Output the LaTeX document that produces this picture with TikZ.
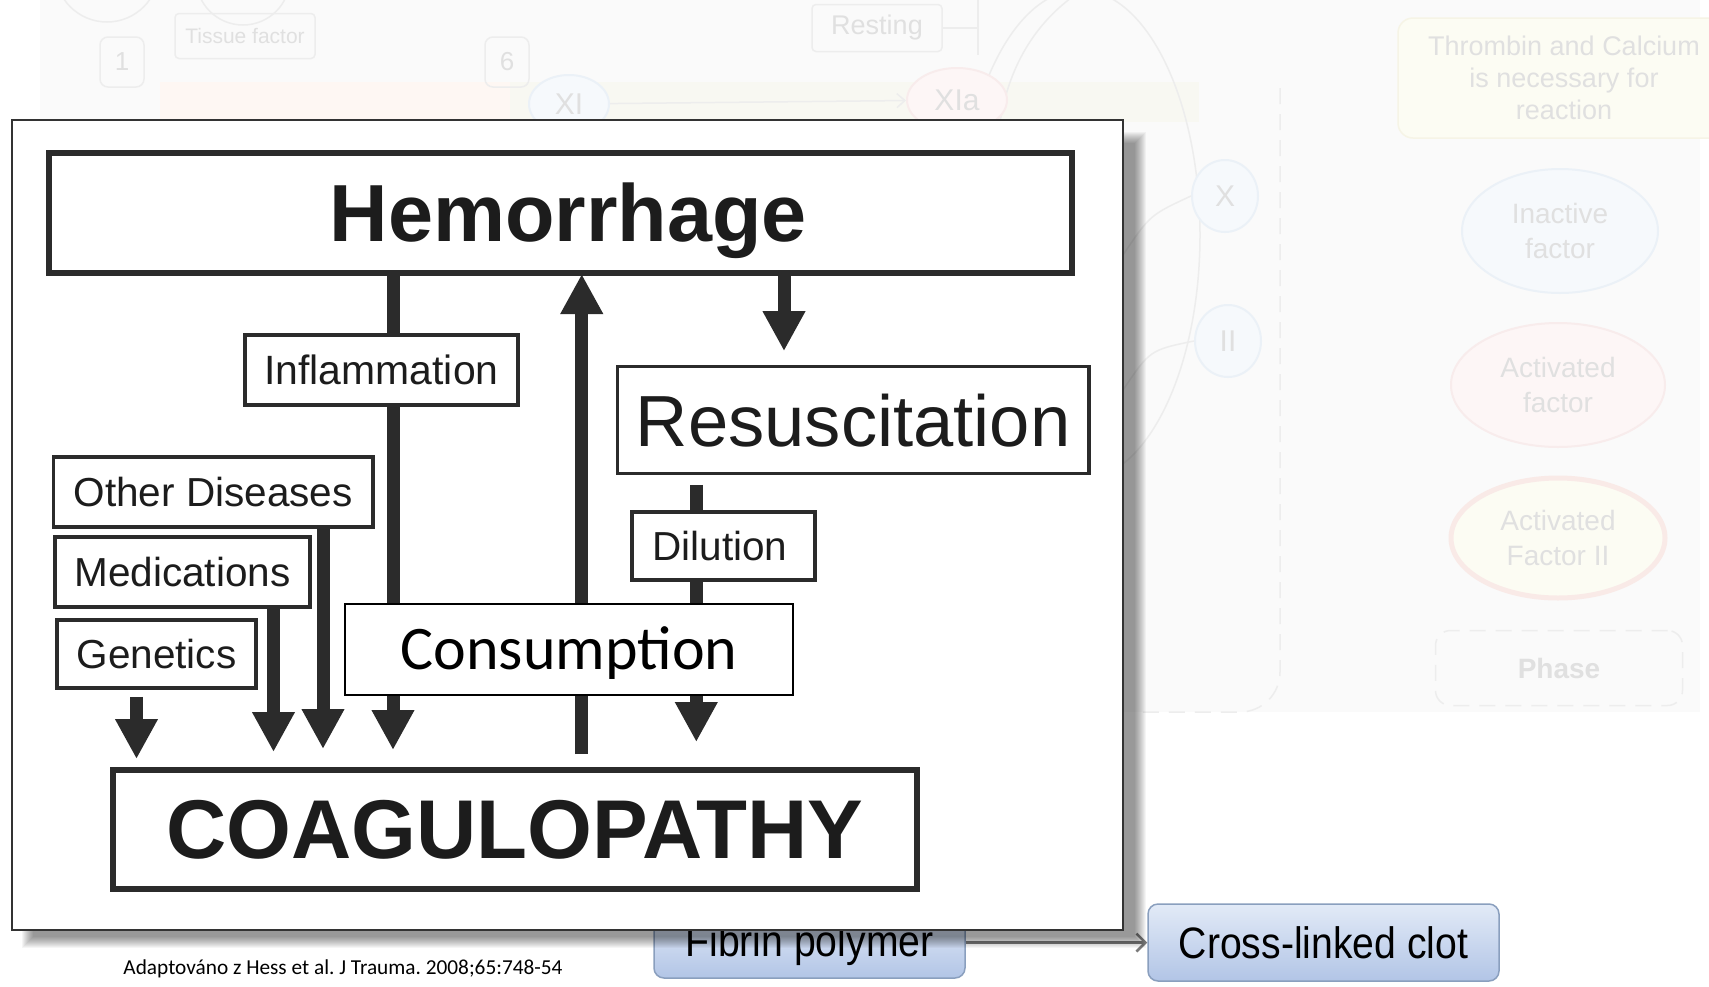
\documentclass[tikz,border=0pt]{standalone}
\usepackage{fontspec}
\setmainfont{Liberation Sans}
\newfontfamily\carlito{Carlito}
\usetikzlibrary{arrows.meta,calc,shapes.geometric}
\definecolor{ink}{HTML}{2B2B2B}
\definecolor{txt}{HTML}{1C1C1C}
\definecolor{ghosttext}{HTML}{E0E0E0}
\definecolor{ghostline}{HTML}{EDEDED}
\definecolor{ghostpanel}{HTML}{FAFAFA}
\definecolor{bandpeach}{HTML}{FEF7F3}
\definecolor{bandcream}{HTML}{F8F8F2}
\definecolor{paleblue}{HTML}{F6F9FC}
\definecolor{paleblueline}{HTML}{EBF1F7}
\definecolor{palepink}{HTML}{FDF6F6}
\definecolor{palepinkline}{HTML}{F8ECEC}
\definecolor{paleyellow}{HTML}{FCFCF3}
\definecolor{paleyellowline}{HTML}{F6F4E6}
\definecolor{glowline}{HTML}{F9EAE7}
\definecolor{fibtop}{HTML}{E2EAF7}
\definecolor{fibbottom}{HTML}{B2C5E6}
\definecolor{fibline}{HTML}{8A9FBE}
\definecolor{linkgray}{HTML}{7A7A7A}
\definecolor{sheetline}{HTML}{333333}
\newcommand{\fsz}[1]{\fontsize{#1}{#1}\selectfont}
\begin{document}
\frenchspacing
\begin{tikzpicture}[x=1pt,y=-1pt,
  frame/.style={draw=ink, fill=white, inner sep=0pt, text=txt},
  headbox/.style={frame, line width=6pt, text depth=0pt},
  labbox/.style={frame, line width=3.8pt, font=\fsz{40.5}, text height=29pt, text depth=0pt},
  shaft/.style={draw=ink, line width=13pt},
  flow/.style={shaft, -{Triangle[width=40pt,length=40pt]}},
  ghost/.style={draw=ghostline, line width=1.5pt},
  ghostlbl/.style={text=ghosttext, align=center, inner sep=0pt},
  ghostoval/.style={ellipse, line width=2pt, ghostlbl},
  bluebtn/.style={draw=fibline, line width=1.5pt, rounded corners=10pt,
    top color=fibtop, bottom color=fibbottom, inner sep=0pt, text=black,
    font=\fsz{44}, text height=32pt},
]
\useasboundingbox (0,0) rectangle (1709,986);
\fill[white] (0,0) rectangle (1709,986);

% ---------- washed-out coagulation scheme in the background ----------
\begin{scope}
\clip (0,0) rectangle (1709,986);
\fill[ghostpanel] (40,0) rectangle (1700,712);
\fill[bandpeach] (160,82) rectangle (510,122);
\fill[bandcream] (510,82) rectangle (1199,122);

\draw[ghost] (107,-30) circle[radius=52];
\draw[ghost] (243,-22) circle[radius=47];
\node[draw=ghostline, line width=1.5pt, rounded corners=4pt, minimum width=140pt,
      minimum height=45pt, ghostlbl, font=\fsz{21}] (tissue) at (245,36) {Tissue factor};
\node[draw=ghostline, line width=1.5pt, rounded corners=8pt, minimum width=44pt,
      minimum height=50pt, ghostlbl, font=\fsz{26}] (stepone) at (122,62) {1};
\node[draw=ghostline, line width=1.5pt, rounded corners=8pt, minimum width=44pt,
      minimum height=50pt, ghostlbl, font=\fsz{26}] (stepsix) at (507,62) {6};

\node[draw=ghostline, line width=1.5pt, rounded corners=4pt, minimum width=130pt,
      minimum height=47pt, ghostlbl, font=\fsz{27}] (rest) at (877,28) {Resting};
\coordinate (restjoin) at (978,28);
\coordinate (resttop) at (978,0);
\coordinate (restfoot) at (978,55);
\draw[ghost] (rest.east) -- (restjoin);
\draw[ghost] (resttop) -- (restfoot);

\draw[ghost] (1080,235) ellipse[x radius=120, y radius=245];
\draw[ghost] (1000,122) .. controls (1010,60) and (1040,20) .. (1075,-5);

\node[ghostoval, draw=paleblueline, fill=paleblue, minimum width=80pt,
      minimum height=58pt, font=\fsz{30}] (xi) at (569,104) {XI};
\node[ghostoval, draw=palepinkline, fill=palepink, minimum width=100pt,
      minimum height=64pt, font=\fsz{30}] (xia) at (957,100) {XIa};
\draw[ghost, -{Straight Barb[length=8pt,width=14pt]}] (xi) -- (xia);

\node[ghostoval, draw=paleblueline, fill=paleblue, minimum width=66pt,
      minimum height=72pt, font=\fsz{30}] (fx) at (1225,196) {X};
\node[ghostoval, draw=paleblueline, fill=paleblue, minimum width=66pt,
      minimum height=72pt, font=\fsz{30}] (fii) at (1228,341) {II};
\coordinate (fxin) at (1123,255);
\coordinate (fiiin) at (1123,390);
\draw[ghost] (fxin) .. controls (1150,215) .. (fx.west);
\draw[ghost] (fiiin) .. controls (1150,350) .. (fii.west);

\draw[ghost, dash pattern=on 16pt off 10pt, rounded corners=40pt]
  (1280,88) -- (1280,712) -- (1140,712);

\node[draw=paleyellowline, fill=paleyellow, line width=1.5pt, rounded corners=15pt,
      minimum width=332pt, minimum height=120pt, ghostlbl,
      font=\fontsize{27}{32}\selectfont] (thr) at (1564,78)
      {Thrombin and Calcium\\is necessary for\\reaction};
\node[ghostoval, draw=paleblueline, fill=paleblue, minimum width=196pt,
      minimum height=124pt, font=\fontsize{28}{35}\selectfont] (inact) at (1560,231)
      {Inactive\\factor};
\node[ghostoval, draw=palepinkline, fill=palepink, minimum width=214pt,
      minimum height=124pt, font=\fontsize{28}{35}\selectfont] (act) at (1558,385)
      {Activated\\factor};
\node[ghostoval, draw=glowline, line width=5pt, fill=paleyellow, minimum width=214pt,
      minimum height=120pt, font=\fontsize{28}{35}\selectfont] (actii) at (1558,538)
      {Activated\\Factor II};
\node[draw=ghostline, line width=1.5pt, dash pattern=on 16pt off 10pt,
      rounded corners=15pt, minimum width=247pt, minimum height=75pt, ghostlbl,
      font=\fsz{28}\bfseries] (phase) at (1559,668) {Phase};
\end{scope}

% ---------- fibrin steps at the bottom ----------
\node[bluebtn, minimum width=311pt, minimum height=66pt, text depth=10pt] (fib) at (809.5,945)
  {\scalebox{0.89}[1]{Fibrin polymer}};
\node[bluebtn, minimum width=351pt, minimum height=77pt, text depth=0pt] (clot) at (1323.5,942.5)
  {\scalebox{0.89}[1]{Cross-linked clot}};
\draw[draw=linkgray, line width=2.5pt, -{Straight Barb[length=9pt,width=18pt]}]
  (fib.east |- clot.west) -- (clot.west);

% ---------- sheet with its soft shadow ----------
\foreach \k in {0,...,11} {
  \fill[black, opacity=0.04] (22+\k,132+\k) rectangle (1146-\k,948-\k);
}
\node[draw=sheetline, line width=1.6pt, fill=white, inner sep=0pt,
      minimum width=1111pt, minimum height=810pt] (sheet) at (567.5,525) {};

% ---------- hemorrhage / coagulopathy scheme ----------
\node[headbox, minimum width=1023pt, minimum height=120.5pt,
      font=\fsz{81}\bfseries, text height=58pt] (hem) at (560.5,212.75)
      {\hspace*{16pt}Hemorrhage};
\node[headbox, minimum width=804.5pt, minimum height=119pt,
      font=\fsz{83.4}\bfseries, text height=59.5pt] (coag) at (514.75,829) {COAGULOPATHY};
\node[frame, line width=3.8pt, minimum width=471.5pt, minimum height=107pt,
      font=\fsz{72.4}, text height=52pt, text depth=0pt] (resus) at (853.25,420) {Resuscitation};
\node[labbox, minimum width=273pt, minimum height=70pt, font=\fsz{40.9}] (infl) at (381.5,370) {Inflammation};
\node[labbox, minimum width=319.5pt, minimum height=70pt] (other) at (213.25,492) {Other Diseases};
\node[labbox, minimum width=255pt, minimum height=70pt] (med) at (182.5,572) {Medications};
\node[labbox, minimum width=199pt, minimum height=68pt] (gen) at (156.5,654) {Genetics};
\node[labbox, minimum width=183pt, minimum height=68pt] (dil) at (723.3,546) {Dilution\hspace*{7pt}};

% connectors
\draw[shaft] ([xshift=11.5pt]infl.north) -- ([xshift=11.5pt]infl.north |- hem.south);
\draw[flow, shorten >=16.5pt] ([xshift=11.5pt]infl.south) -- ([xshift=11.5pt]infl.south |- coag.north);
\draw[flow, shorten >=17.5pt] ([xshift=109.75pt]other.south) -- ([xshift=109.75pt]other.south |- coag.north);
\draw[flow, shorten >=14.5pt] ([xshift=91pt]med.south) -- ([xshift=91pt]med.south |- coag.north);
\draw[flow, shorten <=7pt, shorten >=7.5pt] ([xshift=-20pt]gen.south) -- ([xshift=-20pt]gen.south |- coag.north);
\draw[flow, shorten <=12.5pt, shorten >=-2pt] ([xshift=67pt]coag.north) -- ([xshift=67pt]coag.north |- hem.south);
\draw[flow, shorten >=13.5pt] ([xshift=-69.25pt]resus.north |- hem.south) -- ([xshift=-69.25pt]resus.north);
\draw[shaft, shorten <=9.5pt] ([xshift=-27pt]dil.north |- resus.south) -- ([xshift=-27pt]dil.north);
\draw[flow, shorten >=24.5pt] ([xshift=-27pt]dil.south) -- ([xshift=-27pt]dil.south |- coag.north);

\node[draw=black, line width=2pt, fill=white, inner sep=0pt, text=black,
      minimum width=448pt, minimum height=91pt, font=\carlito\fsz{62},
      text height=40pt, text depth=0pt] (cons) at (569,649.5) {Consumption};

% ---------- source line ----------
\node[font=\carlito\fsz{21.3}, text=black, inner sep=0pt] (cite) at (343,969)
  {Adaptováno z Hess et al. J Trauma. 2008;65:748-54};
\end{tikzpicture}
\end{document}
